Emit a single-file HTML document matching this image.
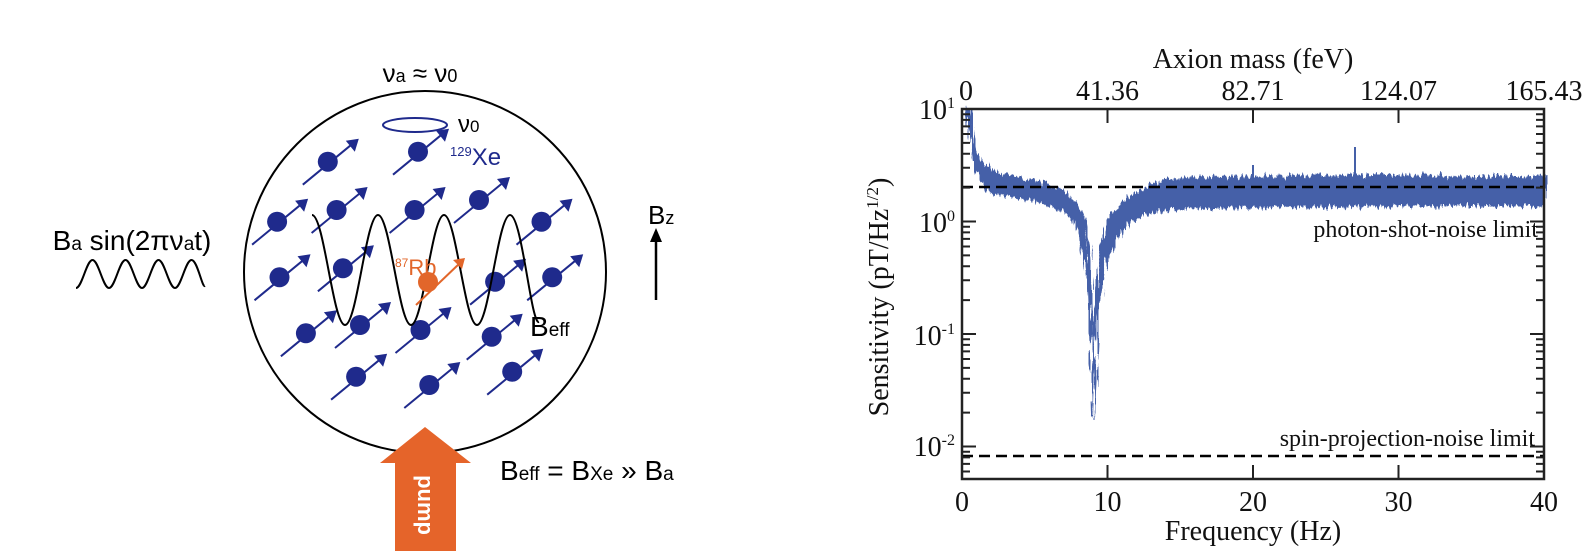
<!DOCTYPE html>
<html><head><meta charset="utf-8"><style>
html,body{margin:0;padding:0;background:#fff;}
svg{display:block;}
</style></head><body>
<svg width="1593" height="551" viewBox="0 0 1593 551" xmlns="http://www.w3.org/2000/svg">
<defs>
<g id="sp">
<line x1="-25" y1="23" x2="26" y2="-19" stroke="#1f2a8c" stroke-width="2"/>
<polygon points="31,-23 18,-21 27,-10" fill="#1f2a8c"/>
<circle cx="0" cy="0" r="10" fill="#1f2a8c"/>
</g>
<filter id="jag" x="-5%" y="-20%" width="110%" height="140%" color-interpolation-filters="sRGB">
<feTurbulence type="fractalNoise" baseFrequency="0.45 0.03" numOctaves="2" seed="7" result="n0"/>
<feColorMatrix in="n0" type="matrix" values="1 0 0 0 0  0 1 0 0 0  0 0 1 0 0  0 0 0 0 1" result="n1"/>
<feColorMatrix in="n1" type="matrix" values="0.5 0 0 0 0.25  0 1 0 0 0  0 0 1 0 0  0 0 0 0 1" result="n"/>
<feDisplacementMap in="SourceGraphic" in2="n" scale="13" xChannelSelector="B" yChannelSelector="G"/>
</filter>
</defs>
<rect width="1593" height="551" fill="#fff"/>
<g font-family="Liberation Sans, Arial, sans-serif">
<circle cx="425" cy="272" r="181" fill="none" stroke="#000" stroke-width="2"/>
<text x="420" y="82" font-size="26" text-anchor="middle">ν<tspan font-size="18">a</tspan> ≈ ν<tspan font-size="18">0</tspan></text>
<ellipse cx="415" cy="125" rx="32" ry="7" fill="none" stroke="#1f2a8c" stroke-width="2"/>
<text x="458" y="132" font-size="24">ν<tspan font-size="17">0</tspan></text>
<text x="450" y="165" font-size="24" fill="#1f2a8c"><tspan font-size="13" dy="-9">129</tspan><tspan dy="9">Xe</tspan></text>
<text x="132" y="250" font-size="28" text-anchor="middle">B<tspan font-size="19">a</tspan> sin(2πν<tspan font-size="19">a</tspan>t)</text>
<path d="M76,288 C82,288 86.5,260 92.5,260 S103,288 109,288 S119.5,260 125.5,260 S136,288 142,288 S152.5,260 158.5,260 S169,288 175,288 S185.5,260 191.5,260 S202,288 205,286" fill="none" stroke="#000" stroke-width="2"/>
<text x="648" y="224" font-size="26">B<tspan font-size="18">z</tspan></text>
<line x1="656" y1="300" x2="656" y2="240" stroke="#000" stroke-width="2.5"/>
<polygon points="650,242 662,242 656,228" fill="#000"/>
<use href="#sp" x="327.8" y="161.7"/>
<use href="#sp" x="418" y="151.7"/>
<use href="#sp" x="277.1" y="221.7"/>
<use href="#sp" x="336.6" y="210"/>
<use href="#sp" x="414.6" y="210"/>
<use href="#sp" x="479" y="200"/>
<use href="#sp" x="541.5" y="221.7"/>
<use href="#sp" x="279.5" y="277.3"/>
<use href="#sp" x="342.9" y="268.3"/>
<use href="#sp" x="495.1" y="281.7"/>
<use href="#sp" x="552.2" y="277.3"/>
<use href="#sp" x="305.9" y="333.3"/>
<use href="#sp" x="360" y="325"/>
<use href="#sp" x="420.5" y="330"/>
<use href="#sp" x="491.7" y="336.7"/>
<use href="#sp" x="356.1" y="376.7"/>
<use href="#sp" x="429.3" y="385"/>
<use href="#sp" x="512.2" y="371.7"/>
<path d="M312,215 C324,215 333,325 345,325 S366,215 378,215 S399,325 411,325 S432,215 444,215 S465,325 477,325 S498,215 510,215 S531,325 539,322" fill="none" stroke="#000" stroke-width="2"/>
<text x="395" y="275" font-size="22" fill="#e2662a"><tspan font-size="12" dy="-8">87</tspan><tspan dy="8">Rb</tspan></text>
<line x1="416" y1="305" x2="460" y2="263" stroke="#e2662a" stroke-width="2"/>
<polygon points="465,258 453,260 462,269" fill="#e2662a"/>
<circle cx="428" cy="282" r="10" fill="#e2662a"/>
<text x="530" y="336" font-size="28">B<tspan font-size="19">eff</tspan></text>
<polygon points="380,463 425,427 471,463 456,463 456,551 395,551 395,463" fill="#e5642a"/>
<text x="0" y="0" font-size="22" font-weight="bold" fill="#fff" text-anchor="middle" transform="translate(418,505) rotate(90)">pump</text>
<text x="500" y="480" font-size="28">B<tspan font-size="19">eff</tspan> = B<tspan font-size="19">Xe</tspan> » B<tspan font-size="19">a</tspan></text>
</g>
<g font-family="Liberation Serif, Times New Roman, serif" font-size="28" fill="#111">
<g filter="url(#jag)">
<path d="M966,109 L969,112 L976,150 L984,165 L991,170 L1006,176 L1020,179 L1035,182 L1049,185 L1064,192 L1075,203 L1083,220 L1089,250 L1091.5,300 L1093,405 L1094.5,330 L1097,280 L1102,245 L1107.5,222 L1122,203 L1137,193 L1151,185 L1166,180 L1195,178 L1253,177 L1326,176 L1398,176 L1471,177 L1544,177 L1544,205 L1398,205 L1253,207 L1180,208 L1151,212 L1137,218 L1122,230 L1107.5,255 L1102,275 L1097,320 L1094.5,380 L1093,417 L1091.5,360 L1089,290 L1083,245 L1075,220 L1064,212 L1049,205 L1035,200 L1020,198 L1006,195 L991,193 L984,185 L976,170 L969,130 Z" fill="#4560a8" stroke="#4560a8" stroke-width="2"/>
</g>
<line x1="1355" y1="185" x2="1355" y2="147" stroke="#4560a8" stroke-width="2"/>
<line x1="1253" y1="185" x2="1253" y2="165" stroke="#4560a8" stroke-width="2"/>
<line x1="962" y1="187" x2="1544" y2="187" stroke="#000" stroke-width="2.5" stroke-dasharray="11,6"/>
<line x1="962" y1="456" x2="1544" y2="456" stroke="#000" stroke-width="2.5" stroke-dasharray="11,6"/>
<path stroke="#222" stroke-width="2" fill="none" d="
M962,221.5h14 M962,334h14 M962,446.5h14
M1544,221.5h-14 M1544,334h-14 M1544,446.5h-14
M962,187.6h8 M962,167.8h8 M962,153.8h8 M962,142.9h8 M962,134h8 M962,126.4h8 M962,119.9h8 M962,114.2h8
M962,300.1h8 M962,280.3h8 M962,266.3h8 M962,255.4h8 M962,246.5h8 M962,238.9h8 M962,232.4h8 M962,226.7h8
M962,412.6h8 M962,392.8h8 M962,378.8h8 M962,367.9h8 M962,359h8 M962,351.4h8 M962,344.9h8 M962,339.2h8
M962,471.5h8 M962,463.9h8 M962,457.4h8 M962,451.7h8
M1544,187.6h-8 M1544,167.8h-8 M1544,153.8h-8 M1544,142.9h-8 M1544,134h-8 M1544,126.4h-8 M1544,119.9h-8 M1544,114.2h-8
M1544,300.1h-8 M1544,280.3h-8 M1544,266.3h-8 M1544,255.4h-8 M1544,246.5h-8 M1544,238.9h-8 M1544,232.4h-8 M1544,226.7h-8
M1544,412.6h-8 M1544,392.8h-8 M1544,378.8h-8 M1544,367.9h-8 M1544,359h-8 M1544,351.4h-8 M1544,344.9h-8 M1544,339.2h-8
M1544,471.5h-8 M1544,463.9h-8 M1544,457.4h-8 M1544,451.7h-8
M1107.5,479v-14 M1253,479v-14 M1398.5,479v-14
M1107.5,109v14 M1253,109v14 M1398.5,109v14"/>
<rect x="962" y="109" width="582" height="370" fill="none" stroke="#222" stroke-width="2.5"/>
<text x="1538" y="237" font-size="24" text-anchor="end">photon-shot-noise limit</text>
<text x="1535" y="446" font-size="24" text-anchor="end">spin-projection-noise limit</text>
<text x="962" y="511" text-anchor="middle">0</text>
<text x="1107.5" y="511" text-anchor="middle">10</text>
<text x="1253" y="511" text-anchor="middle">20</text>
<text x="1398.5" y="511" text-anchor="middle">30</text>
<text x="1544" y="511" text-anchor="middle">40</text>
<text x="1253" y="540" text-anchor="middle">Frequency (Hz)</text>
<text x="966" y="100" text-anchor="middle">0</text>
<text x="1107.5" y="100" text-anchor="middle">41.36</text>
<text x="1253" y="100" text-anchor="middle">82.71</text>
<text x="1398.5" y="100" text-anchor="middle">124.07</text>
<text x="1544" y="100" text-anchor="middle">165.43</text>
<text x="1253" y="68" text-anchor="middle">Axion mass (feV)</text>
<text x="955" y="119" text-anchor="end">10<tspan font-size="16" dy="-11">1</tspan></text>
<text x="955" y="232" text-anchor="end">10<tspan font-size="16" dy="-11">0</tspan></text>
<text x="955" y="345" text-anchor="end">10<tspan font-size="16" dy="-11">-1</tspan></text>
<text x="955" y="456" text-anchor="end">10<tspan font-size="16" dy="-11">-2</tspan></text>
<text transform="translate(888,297) rotate(-90)" text-anchor="middle">Sensitivity (pT/Hz<tspan font-size="17" dy="-10">1/2</tspan><tspan dy="10">)</tspan></text>
</g>
</svg>
</body></html>
